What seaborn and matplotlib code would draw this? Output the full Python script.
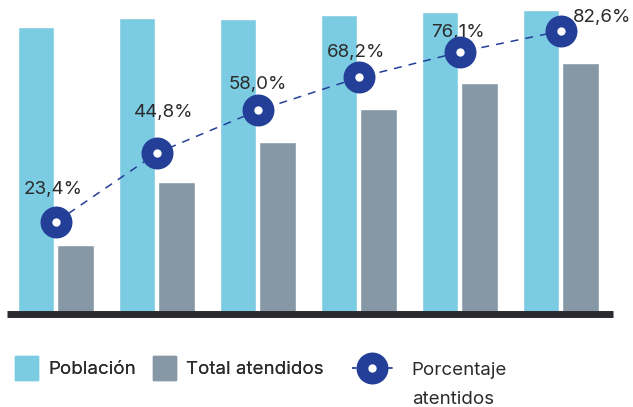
import matplotlib
matplotlib.use('Agg')
import matplotlib.pyplot as plt
import matplotlib.patches as mpatches
import matplotlib.lines as mlines
import pandas as pd
import seaborn as sns

# data (bar heights in relative units, line in %)
categorias = ['Periodo 1', 'Periodo 2', 'Periodo 3', 'Periodo 4', 'Periodo 5', 'Periodo 6']
poblacion = [288, 297, 296, 300, 303, 305]
total_atendidos = [69, 132, 172, 206, 232, 252]
porcentaje = [23.4, 44.8, 58.0, 68.2, 76.1, 82.6]

color_pob = '#7bcce2'
color_tot = '#8697a6'
color_lin = '#233f98'
color_txt = '#2b2b2b'

sns.set_theme(style='white')
plt.rcParams['font.family'] = ['Inter', 'DejaVu Sans']

df = pd.DataFrame({
    'periodo': categorias * 2,
    'serie': ['Población'] * len(categorias) + ['Total atendidos'] * len(categorias),
    'valor': poblacion + total_atendidos,
})

fig = plt.figure(figsize=(6.33, 4.07), dpi=100)
ax = fig.add_axes([0.01106, 0.2273, 0.9573, 0.7604])

sns.barplot(data=df, x='periodo', y='valor', hue='serie', palette=[color_pob, color_tot],
            width=0.79, gap=0.075, saturation=1, legend=False, ax=ax)
ax.set_xlim(-0.485, 5.515)
ax.set_ylim(0, 309.5)

# percentage line on a second scale
ax2 = ax.twinx()
sns.lineplot(x=categorias, y=porcentaje, ax=ax2, sort=False, color=color_lin,
             linewidth=1.1, linestyle=(0, (5.2, 4.6)), marker='o', markersize=14.5,
             markerfacecolor='white', markeredgecolor=color_lin, markeredgewidth=8.5,
             zorder=3)
ax2.set_ylim(-5.27, 90.67)
ax2.set_xlim(-0.485, 5.515)

# label offsets in pixels (dx, dy) relative to each marker
offsets = [(-3, 33), (7, 40), (0, 26), (-3, 25), (-2, 20), (41, 14)]
for i, (p, off) in enumerate(zip(porcentaje, offsets)):
    ax2.annotate(f'{p:.1f}'.replace('.', ',') + '%', (i, p), xytext=off,
                 textcoords='offset pixels', ha='center', va='center',
                 fontsize=13.5, color=color_txt, zorder=1)

for a in (ax, ax2):
    a.set_xlabel('')
    a.set_ylabel('')
    a.set_xticks([])
    a.set_yticks([])
    for side in ('top', 'left', 'right'):
        a.spines[side].set_visible(False)
ax.spines['bottom'].set_color('#2b2a2e')
ax.spines['bottom'].set_linewidth(5)
ax.spines['bottom'].set_capstyle('butt')
ax2.spines['bottom'].set_visible(False)

# legends below the plot
h_pob = mpatches.Patch(color=color_pob, label='Población')
h_tot = mpatches.Patch(color=color_tot, label='Total atendidos')
leg1 = fig.legend(handles=[h_pob, h_tot], loc='upper left', bbox_to_anchor=(0.0237, 0.1253),
                  ncol=2, frameon=False, fontsize=13.5, handlelength=1.23, handleheight=1.6,
                  handletextpad=0.55, columnspacing=0.9, borderpad=0, borderaxespad=0,
                  labelcolor=color_txt)
h_lin = mlines.Line2D([], [], color=color_lin, linewidth=1.3, linestyle=(0, (2.5, 2.5)),
                      marker='o', markersize=14.5, markerfacecolor='white',
                      markeredgecolor=color_lin, markeredgewidth=8.5)
fig.legend(handles=[h_lin], labels=['Porcentaje'], loc='center left',
           bbox_to_anchor=(0.556, 0.0909), frameon=False, fontsize=13.5, handlelength=2.19,
           handletextpad=1.0, borderpad=0, borderaxespad=0, labelcolor=color_txt,
           numpoints=1)
fig.add_artist(leg1)
fig.text(412 / 633, 3 / 407, 'atentidos', fontsize=13.5, color=color_txt,
         ha='left', va='baseline')

fig.savefig('out.png', dpi=100)
